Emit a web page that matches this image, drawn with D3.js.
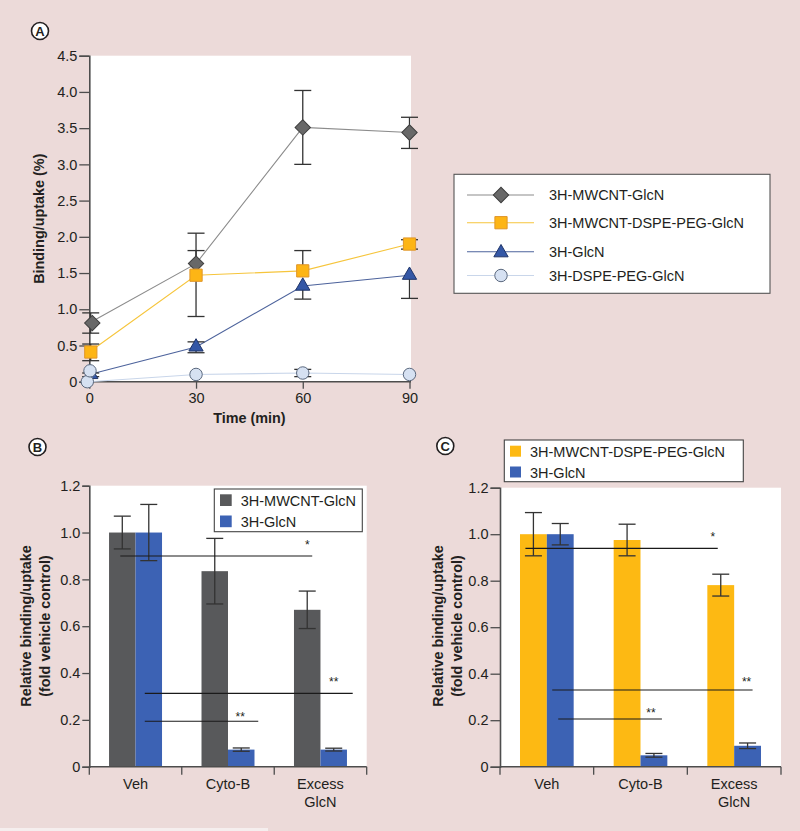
<!DOCTYPE html>
<html><head><meta charset="utf-8">
<script src="https://cdn.jsdelivr.net/npm/d3@7"></script>
<style>
body{margin:0;background:#ecdad9}
svg{display:block}
text{font-family:"Liberation Sans",Arial,Helvetica,sans-serif;fill:#231f20}
</style>
</head><body>
<svg id="chart" width="800" height="831"></svg>
<script>
// ---------------- DATA ----------------
// Panel A
const timePoints = [0, 30, 60, 90];
const yTicksA = [0, 0.5, 1.0, 1.5, 2.0, 2.5, 3.0, 3.5, 4.0, 4.5];
const seriesNamesA = ["3H-MWCNT-GlcN", "3H-MWCNT-DSPE-PEG-GlcN", "3H-GlcN", "3H-DSPE-PEG-GlcN"];
const mwcntGlcN      = [0.81, 1.63, 3.51, 3.44];
const mwcntGlcNLow   = [0.67, 0.90, 3.00, 3.22];
const mwcntGlcNHigh  = [0.95, 2.05, 4.02, 3.65];
const mwcntPegGlcN     = [0.41, 1.47, 1.53, 1.90];
const mwcntPegGlcNLow  = [0.29, 1.47, 1.53, 1.83];
const mwcntPegGlcNHigh = [0.52, 1.81, 1.81, 1.96];
const glcN      = [0.10, 0.48, 1.32, 1.47];
const glcNLow   = [0.07, 0.40, 1.14, 1.15];
const glcNHigh  = [0.12, 0.55, 1.32, 1.47];
const dspePegGlcN     = [0.00, 0.10, 0.12, 0.10];
const dspePegGlcNLow  = [0.00, 0.10, 0.07, 0.10];
const dspePegGlcNHigh = [0.00, 0.10, 0.17, 0.10];
const dspePegExtraTime  = [0];
const dspePegExtraValue = [0.15];

// Panels B and C
const categories = ["Veh", "Cyto-B", "Excess GlcN"];
const categoryLines = [["Veh"], ["Cyto-B"], ["Excess", "GlcN"]];
const yTicksBC = [0, 0.2, 0.4, 0.6, 0.8, 1.0, 1.2];

const seriesNamesB = ["3H-MWCNT-GlcN", "3H-GlcN"];
const bMwcnt    = [1.00, 0.835, 0.67];
const bMwcntErr = [0.07, 0.14, 0.08];
const bGlcN     = [1.00, 0.073, 0.073];
const bGlcNErr  = [0.12, 0.007, 0.006];
const sigB = [
  {y: 0.90, label: "*",  from: ["Veh", 0], to: ["Excess GlcN", 0]},
  {y: 0.313, label: "**", from: ["Veh", 1], to: ["Excess GlcN", 1]},
  {y: 0.194, label: "**", from: ["Veh", 1], to: ["Cyto-B", 1]}
];

const seriesNamesC = ["3H-MWCNT-DSPE-PEG-GlcN", "3H-GlcN"];
const cPeg     = [1.00, 0.975, 0.781];
const cPegErr  = [0.093, 0.068, 0.047];
const cGlcN    = [1.00, 0.049, 0.090];
const cGlcNErr = [0.046, 0.008, 0.012];
const sigC = [
  {y: 0.939, label: "*",  from: ["Veh", 0], to: ["Excess GlcN", 0]},
  {y: 0.33,  label: "**", from: ["Veh", 1], to: ["Excess GlcN", 1]},
  {y: 0.205, label: "**", from: ["Veh", 1], to: ["Cyto-B", 1]}
];

// ---------------- DRAWING ----------------
const svg = d3.select("#chart");
const FONT = 14.5;
const AXIS = "#4d4d4d";
const ERR = "#333333";

svg.append("rect").attr("width", 800).attr("height", 831).attr("fill", "#ecdad9");
svg.append("rect").attr("x", 0).attr("y", 828).attr("width", 268).attr("height", 3).attr("fill", "#f5eeee");

function panelLabel(cx, cy, letter) {
  svg.append("circle").attr("cx", cx).attr("cy", cy).attr("r", 8.5)
    .attr("fill", "#fff").attr("stroke", "#231f20").attr("stroke-width", 1.6);
  svg.append("text").attr("x", cx).attr("y", cy + 4.6).attr("text-anchor", "middle")
    .attr("font-size", 13).attr("font-weight", "bold").text(letter);
}
panelLabel(40, 31, "A");
panelLabel(37.5, 447, "B");
panelLabel(445.3, 446, "C");

// ---------- Panel A ----------
const xA = d3.scaleLinear().domain([0, 90]).range([89.3, 409.5]);
const yA = d3.scaleLinear().domain([0, 4.5]).range([381.7, 55.7]);
svg.append("rect").attr("x", 89.3).attr("y", yA(4.5)).attr("width", 411 - 89.3)
  .attr("height", yA(0) - yA(4.5)).attr("fill", "#fff");

const gA = svg.append("g");
const ayA = gA.append("g").attr("transform", `translate(${xA(0)},0)`)
  .call(d3.axisLeft(yA).tickValues(yTicksA).tickSize(10).tickPadding(2)
    .tickFormat(d => d === 0 ? "0" : d3.format(".1f")(d)));
const axA = gA.append("g").attr("transform", `translate(0,${yA(0)})`)
  .call(d3.axisBottom(xA).tickValues(timePoints).tickSize(7).tickPadding(4).tickFormat(d3.format("d")));
[ayA, axA].forEach(a => {
  a.select(".domain").attr("stroke", AXIS).attr("stroke-width", 1.6);
  a.selectAll(".tick line").attr("stroke", AXIS).attr("stroke-width", 1.3);
  a.selectAll("text").attr("font-size", FONT).attr("fill", "#231f20")
    .attr("font-family", '"Liberation Sans",Arial,sans-serif');
});
axA.select(".domain").attr("d", `M${xA(0) - 6},0H411`);

svg.append("text").attr("transform", `translate(44,${(yA(0) + yA(4.5)) / 2 + 0}) rotate(-90)`)
  .attr("text-anchor", "middle").attr("font-size", 14.4).attr("font-weight", "bold")
  .text("Binding/uptake (%)");
svg.append("text").attr("x", (xA(0) + xA(90)) / 2).attr("y", 423)
  .attr("text-anchor", "middle").attr("font-size", 14.4).attr("font-weight", "bold")
  .text("Time (min)");

const seriesA = [
  {name: seriesNamesA[0], v: mwcntGlcN, lo: mwcntGlcNLow, hi: mwcntGlcNHigh,
   line: "#8c8c8c", fill: "#686868", stroke: "#3e3e3e", shape: "diamond"},
  {name: seriesNamesA[1], v: mwcntPegGlcN, lo: mwcntPegGlcNLow, hi: mwcntPegGlcNHigh,
   line: "#f6c53c", fill: "#fdb515", stroke: "#e0962a", shape: "square"},
  {name: seriesNamesA[2], v: glcN, lo: glcNLow, hi: glcNHigh,
   line: "#4d639c", fill: "#3457a6", stroke: "#1f3468", shape: "triangle"},
  {name: seriesNamesA[3], v: dspePegGlcN, lo: dspePegGlcNLow, hi: dspePegGlcNHigh,
   line: "#c9d6ea", fill: "#d6e1f2", stroke: "#5a687e", shape: "circle"}
];

function markerPath(shape) {
  if (shape === "diamond") return d3.symbol().type(d3.symbolSquare).size(118)();
  if (shape === "square") return d3.symbol().type(d3.symbolSquare).size(150)();
  if (shape === "triangle") return d3.symbol().type(d3.symbolTriangle).size(88)();
  return d3.symbol().type(d3.symbolCircle).size(122)();
}
function drawMarker(g, s, x, y) {
  g.append("path").attr("d", markerPath(s.shape))
    .attr("transform", `translate(${x},${y})` + (s.shape === "diamond" ? " rotate(45)" : ""))
    .attr("fill", s.fill).attr("stroke", s.stroke).attr("stroke-width", 1);
}

const lineGen = d3.line().x((d, i) => xA(timePoints[i])).y(d => yA(d));
[...seriesA].reverse().forEach(s => {
  gA.append("path").datum(s.v).attr("d", lineGen).attr("fill", "none")
    .attr("stroke", s.line).attr("stroke-width", 1.1);
});
// error bars
seriesA.forEach(s => {
  timePoints.forEach((t, i) => {
    const x = xA(t) + (t === 0 ? 1.4 : 0);
    if (s.hi[i] === s.lo[i]) return;
    gA.append("line").attr("x1", x).attr("x2", x).attr("y1", yA(s.lo[i])).attr("y2", yA(s.hi[i]))
      .attr("stroke", ERR).attr("stroke-width", 1.3);
    [s.lo[i], s.hi[i]].forEach(v => {
      if (v === s.v[i]) return;
      gA.append("line").attr("x1", x - 8.5).attr("x2", x + 8.5).attr("y1", yA(v)).attr("y2", yA(v))
        .attr("stroke", ERR).attr("stroke-width", 1.3);
    });
  });
});
// markers
seriesA.forEach(s => {
  timePoints.forEach((t, i) => {
    const dx = t === 0 ? (s.shape === "diamond" ? 3 : (s.shape === "circle" ? -2 : 1.5)) : 0;
    drawMarker(gA, s, xA(t) + dx, yA(s.v[i]));
  });
});
dspePegExtraTime.forEach((t, i) => drawMarker(gA, seriesA[3], xA(t) + 0.7, yA(dspePegExtraValue[i])));

// legend A
const legA = svg.append("g");
legA.append("rect").attr("x", 454).attr("y", 174.3).attr("width", 316).attr("height", 119)
  .attr("fill", "#fff").attr("stroke", "#555").attr("stroke-width", 1.1);
const legRowsY = [195, 222.7, 251.7, 275.5];
seriesA.forEach((s, i) => {
  const y = legRowsY[i];
  legA.append("line").attr("x1", 467).attr("x2", 534).attr("y1", y).attr("y2", y)
    .attr("stroke", s.line).attr("stroke-width", 1.1);
  drawMarker(legA, s, 501, y + (s.shape === "triangle" ? 1 : 0));
  legA.append("text").attr("x", 549).attr("y", y + 5.3).attr("font-size", FONT).text(s.name);
});

// ---------- Bar panels ----------
function barPanel(opt) {
  const y = d3.scaleLinear().domain([0, 1.2]).range([766.7, opt.top]);
  const x = d3.scaleBand().domain(categories).range([opt.left, opt.right])
    .paddingInner(0.427).paddingOuter(0.2135);
  const xs = d3.scaleBand().domain([0, 1]).range([0, x.bandwidth()]);
  const g = svg.append("g");
  g.append("rect").attr("x", opt.left).attr("y", y(1.2)).attr("width", opt.right - opt.left)
    .attr("height", y(0) - y(1.2)).attr("fill", "#fff");

  const vals = [opt.v0, opt.v1], errs = [opt.e0, opt.e1];
  const barCenter = (cat, k) => x(cat) + xs(k) + xs.bandwidth() / 2;
  [0, 1].forEach(k => {
    g.selectAll(null).data(categories).join("rect")
      .attr("x", c => x(c) + xs(k)).attr("width", xs.bandwidth())
      .attr("y", (c, i) => y(vals[k][i])).attr("height", (c, i) => y(0) - y(vals[k][i]))
      .attr("fill", opt.colors[k]);
  });
  [0, 1].forEach(k => {
    categories.forEach((c, i) => {
      const cx = barCenter(c, k), hi = y(vals[k][i] + errs[k][i]), lo = y(vals[k][i] - errs[k][i]);
      g.append("line").attr("x1", cx).attr("x2", cx).attr("y1", lo).attr("y2", hi)
        .attr("stroke", ERR).attr("stroke-width", 1.3);
      [lo, hi].forEach(yy => g.append("line").attr("x1", cx - 8.5).attr("x2", cx + 8.5)
        .attr("y1", yy).attr("y2", yy).attr("stroke", ERR).attr("stroke-width", 1.3));
    });
  });

  // significance lines
  opt.sig.forEach((s, j) => {
    const yy = y(s.y);
    const x1 = barCenter(s.from[0], s.from[1]) + opt.overhang[j][0];
    const x2 = barCenter(s.to[0], s.to[1]) + opt.overhang[j][1];
    g.append("line").attr("x1", x1).attr("x2", x2).attr("y1", yy).attr("y2", yy)
      .attr("stroke", "#1a1a1a").attr("stroke-width", 1.1);
    g.append("text").attr("x", barCenter(s.to[0], s.to[1]) + opt.starDx[j])
      .attr("y", yy - opt.starGap[j] + 7).attr("text-anchor", "middle")
      .attr("font-size", 12).text(s.label);
  });

  // axes
  const ay = g.append("g").attr("transform", `translate(${opt.left},0)`)
    .call(d3.axisLeft(y).tickValues(yTicksBC).tickSize(opt.tick).tickPadding(2)
      .tickFormat(d => d === 0 ? "0" : d3.format(".1f")(d)));
  ay.select(".domain").attr("stroke", AXIS).attr("stroke-width", 1.6);
  ay.selectAll(".tick line").attr("stroke", AXIS).attr("stroke-width", 1.3);
  ay.selectAll("text").attr("font-size", FONT).attr("fill", "#231f20")
    .attr("font-family", '"Liberation Sans",Arial,sans-serif');

  const y0 = y(0);
  g.append("line").attr("x1", opt.left).attr("x2", opt.right).attr("y1", y0).attr("y2", y0)
    .attr("stroke", AXIS).attr("stroke-width", 1.6);
  const bounds = [opt.left, ...categories.slice(1).map(c => x(c) - x.step() * x.paddingInner() / 2), opt.right];
  bounds.forEach(b => g.append("line").attr("x1", b).attr("x2", b).attr("y1", y0).attr("y2", y0 + 8)
    .attr("stroke", AXIS).attr("stroke-width", 1.3));
  categories.forEach((c, i) => {
    const t = g.append("text").attr("x", x(c) + x.bandwidth() / 2).attr("y", 789.3)
      .attr("text-anchor", "middle").attr("font-size", FONT);
    categoryLines[i].forEach((ln, k) => t.append("tspan").attr("x", x(c) + x.bandwidth() / 2)
      .attr("dy", k === 0 ? 0 : 17.4).text(ln));
  });

  // y title
  const cy = 626;
  g.append("text").attr("transform", `translate(${opt.title1},${cy}) rotate(-90)`)
    .attr("text-anchor", "middle").attr("font-size", 14.4).attr("font-weight", "bold")
    .text("Relative binding/uptake");
  g.append("text").attr("transform", `translate(${opt.title2},${cy}) rotate(-90)`)
    .attr("text-anchor", "middle").attr("font-size", 14.4).attr("font-weight", "bold")
    .text("(fold vehicle control)");

  // legend
  const L = opt.legend;
  g.append("rect").attr("x", L.x).attr("y", L.y).attr("width", L.w).attr("height", L.h)
    .attr("fill", "#fff").attr("stroke", "#444").attr("stroke-width", 1.1);
  opt.names.forEach((n, k) => {
    g.append("rect").attr("x", L.sx).attr("y", L.sy[k]).attr("width", L.sw).attr("height", L.sw)
      .attr("fill", opt.colors[k]);
    g.append("text").attr("x", L.tx).attr("y", L.ty[k]).attr("font-size", FONT).text(n);
  });
}

barPanel({
  left: 89.3, right: 366.7, top: 485.7, tick: 7,
  v0: bMwcnt, e0: bMwcntErr, v1: bGlcN, e1: bGlcNErr,
  colors: ["#58595b", "#3c62b4"], names: seriesNamesB,
  sig: sigB, overhang: [[-2, 5], [-4, 19], [-4, 17]], starDx: [0, 0, -1], starGap: [13.6, 14, 7.3],
  title1: 31, title2: 49.5,
  legend: {x: 214.3, y: 489, w: 148, h: 42.7, sx: 220, sy: [494.3, 515.5], sw: 11.7, tx: 240.7, ty: [506, 527]}
});

barPanel({
  left: 500, right: 781, top: 487.7, tick: 9.5,
  v0: cPeg, e0: cPegErr, v1: cGlcN, e1: cGlcNErr,
  colors: ["#fdb913", "#3c62b4"], names: seriesNamesC,
  sig: sigC, overhang: [[-8, -3], [-8, 5], [-2, 8]], starDx: [-8, -1, -3], starGap: [14, 10.7, 9],
  title1: 442.5, title2: 461.5,
  legend: {x: 504.3, y: 440, w: 239, h: 41.7, sx: 510, sy: [445.7, 466.5], sw: 11, tx: 530, ty: [456.7, 477.7]}
});
</script>
</body></html>
